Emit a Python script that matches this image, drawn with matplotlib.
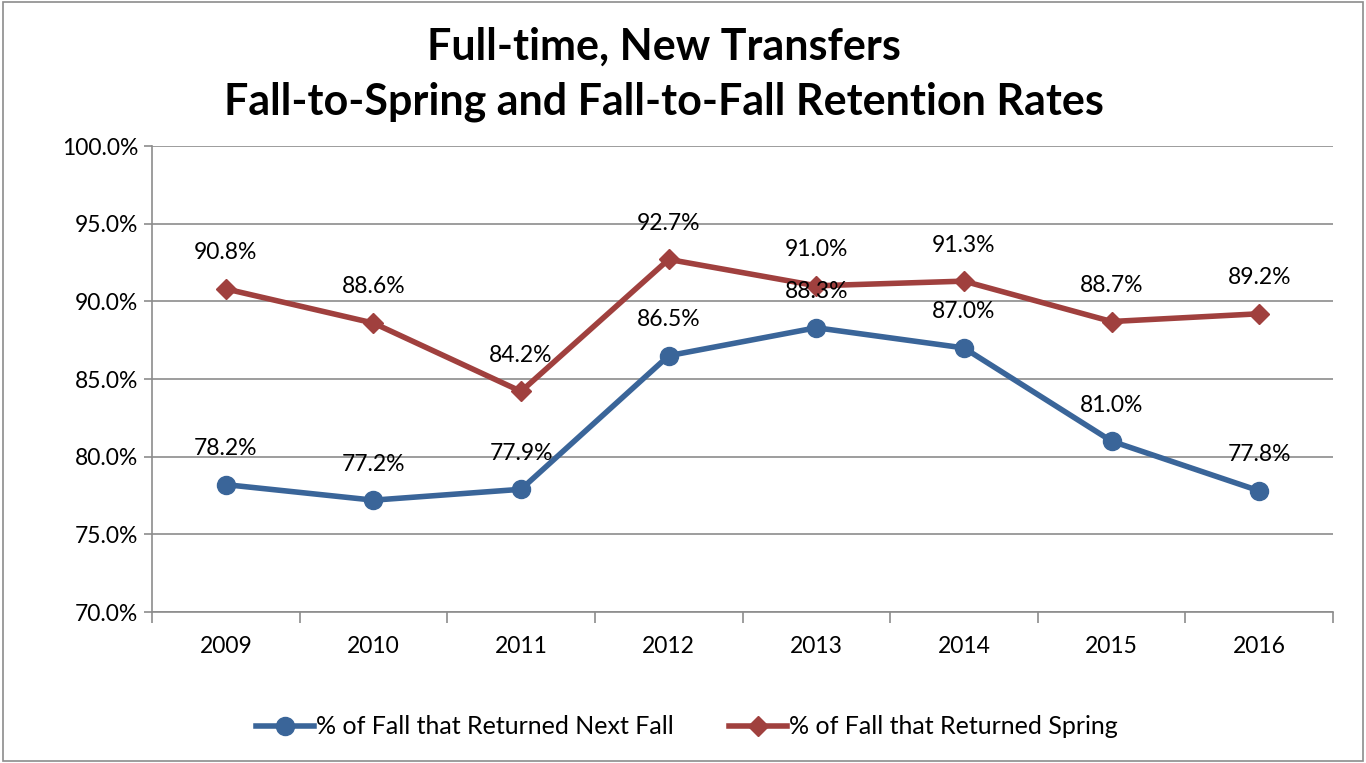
import matplotlib
matplotlib.use("Agg")
import matplotlib.pyplot as plt
from matplotlib.ticker import FuncFormatter, FixedLocator

plt.rcParams['font.family'] = ['Lato', 'DejaVu Sans']

years = ["2009", "2010", "2011", "2012", "2013", "2014", "2015", "2016"]
next_fall = [78.2, 77.2, 77.9, 86.5, 88.3, 87.0, 81.0, 77.8]
spring = [90.8, 88.6, 84.2, 92.7, 91.0, 91.3, 88.7, 89.2]
label_fall = "% of Fall that Returned Next Fall"
label_spring = "% of Fall that Returned Spring"
title = "Full-time, New Transfers\nFall-to-Spring and Fall-to-Fall Retention Rates"

blue = "#3A6599"
red = "#A0403E"
grid_c = "#8C8C8C"

fig = plt.figure(figsize=(13.66, 7.63), dpi=100)
ax = fig.add_axes([152 / 1366, 1 - 612 / 763, (1333 - 152) / 1366, (612 - 146) / 763])

x = list(range(len(years)))
ax.plot(x, next_fall, color=blue, lw=4, marker="o", ms=13, label=label_fall, zorder=3)
ax.plot(x, spring, color=red, lw=4, marker="D", ms=10, label=label_spring, zorder=3)

# value labels sit above each point
for xi, v in zip(x, next_fall):
    ax.annotate(f"{v:.1f}%", (xi, v), xytext=(0, 26), textcoords="offset points",
                ha="center", va="center", fontsize=16.5, zorder=4)
for xi, v in zip(x, spring):
    ax.annotate(f"{v:.1f}%", (xi, v), xytext=(0, 26), textcoords="offset points",
                ha="center", va="center", fontsize=16.5, zorder=4)

ax.set_xlim(-0.5, len(years) - 0.5)
ax.set_ylim(70, 100)
ax.set_yticks([70, 75, 80, 85, 90, 95, 100])
ax.yaxis.set_major_formatter(FuncFormatter(lambda v, p: f"{v:.1f}%"))
ax.grid(axis="y", color=grid_c, lw=1.2, zorder=1)
ax.set_axisbelow(True)

ax.set_xticks(x)
ax.set_xticklabels(years)
ax.tick_params(axis="x", which="major", length=0, pad=17, labelsize=16.5)
ax.xaxis.set_minor_locator(FixedLocator([i - 0.5 for i in range(len(years) + 1)]))
ax.tick_params(axis="x", which="minor", length=8, color=grid_c, width=1.2)
ax.tick_params(axis="y", length=6, color=grid_c, width=1.2, labelsize=16.5, pad=4)

for s in ["top", "right"]:
    ax.spines[s].set_visible(False)
for s in ["left", "bottom"]:
    ax.spines[s].set_color(grid_c)
    ax.spines[s].set_linewidth(1.2)

fig.text(0.486, 1 - 74 / 763, title, ha="center", va="center", fontsize=31,
         fontweight="bold", linespacing=1.45)

fig.legend(loc="center", bbox_to_anchor=(0.503, 1 - 727 / 763), ncol=2, frameon=False,
           fontsize=18, handlelength=2.3, handletextpad=0.1, columnspacing=2.2)

border = plt.Rectangle((0.002, 0.003), 0.996, 0.994, transform=fig.transFigure,
                       fill=False, ec=grid_c, lw=1.2)
fig.patches.append(border)

fig.savefig("out.png", dpi=100)
